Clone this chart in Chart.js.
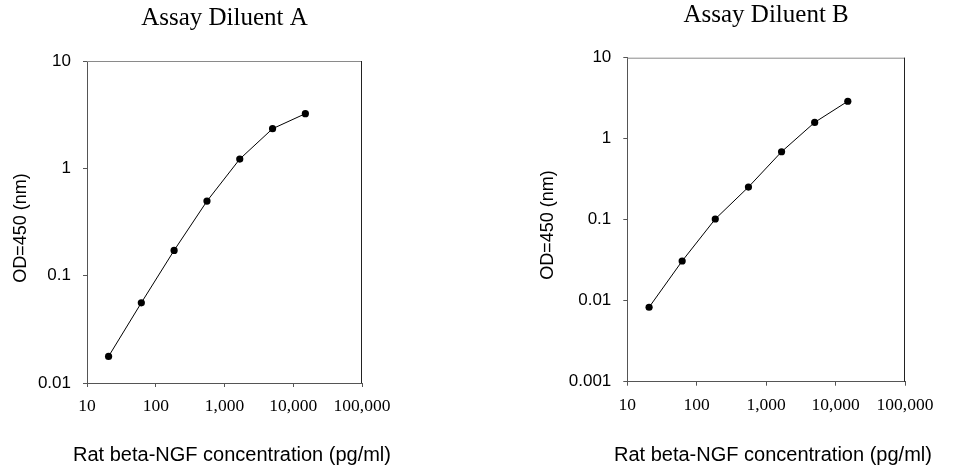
<!DOCTYPE html>
<html>
<head>
<meta charset="utf-8">
<script src="https://cdn.jsdelivr.net/npm/chart.js@4.4.1/dist/chart.umd.min.js"></script>
<style>
  html, body { margin: 0; padding: 0; background: #fff; }
  #wrap { position: relative; width: 962px; height: 473px; }
  .box { position: absolute; top: 0; width: 481px; height: 473px; }
</style>
</head>
<body>
<div id="wrap">
  <div class="box" style="left:0"><canvas id="chartA"></canvas></div>
  <div class="box" style="left:481px"><canvas id="chartB"></canvas></div>
</div>
<script>
// concentrations (pg/ml), same for both panels
const concentrations = [20.6, 61.7, 185, 556, 1667, 5000, 15000];
// OD values
const odDiluentA = [0.0177, 0.0559, 0.172, 0.495, 1.22, 2.34, 3.23];
const odDiluentB = [0.0083, 0.0309, 0.102, 0.253, 0.69, 1.59, 2.90];

const xTickValues = [10, 100, 1000, 10000, 100000];
const xTickLabels = ["10", "100", "1,000", "10,000", "100,000"];
const yTickValuesA = [0.01, 0.1, 1, 10];
const yTickLabelsA = ["0.01", "0.1", "1", "10"];
const yTickValuesB = [0.001, 0.01, 0.1, 1, 10];
const yTickLabelsB = ["0.001", "0.01", "0.1", "1", "10"];

const titles = ["Assay Diluent A", "Assay Diluent B"];
const xTitle = "Rat beta-NGF concentration (pg/ml)";
const yTitle = "OD=450 (nm)";

Chart.defaults.devicePixelRatio = 1;

// cadre haut et droite + titres des axes (le titre de Chart.js compresse le texte)
const frameBox = {
  id: "frameBox",
  afterDraw(chart, args, opts) {
    const a = chart.chartArea;
    const ctx = chart.ctx;
    ctx.save();
    ctx.lineWidth = 1;
    ctx.strokeStyle = "#8a8a8a";
    ctx.beginPath();
    ctx.moveTo(a.left, a.top + 0.5);
    ctx.lineTo(a.right, a.top + 0.5);
    ctx.stroke();
    ctx.strokeStyle = "#222";
    ctx.beginPath();
    ctx.moveTo(a.right - 0.5, a.top);
    ctx.lineTo(a.right - 0.5, a.bottom);
    ctx.stroke();

    ctx.fillStyle = "#000";
    ctx.textAlign = "center";
    ctx.textBaseline = "middle";
    ctx.font = "20px 'Liberation Sans'";
    ctx.fillText(xTitle, (a.left + a.right) / 2 + opts.xShift, a.bottom + opts.xDrop);

    ctx.translate(opts.yX, (a.top + a.bottom) / 2 + opts.yShift);
    ctx.rotate(-Math.PI / 2);
    ctx.font = "18px 'Liberation Sans'";
    ctx.fillText(yTitle, 0, 0);
    ctx.restore();
  }
};

function makePoints(ys) {
  return concentrations.map((x, i) => ({ x: x, y: ys[i] }));
}

function makeChart(id, title, ys, yVals, yLabels, geo) {
  const ctx = document.getElementById(id);
  return new Chart(ctx, {
    type: "scatter",
    data: {
      datasets: [{
        data: makePoints(ys),
        showLine: true,
        borderColor: "#000",
        borderWidth: 1,
        backgroundColor: "#000",
        pointRadius: 3.6,
        pointHoverRadius: 3.6,
        pointBorderWidth: 0
      }]
    },
    options: {
      responsive: true,
      maintainAspectRatio: false,
      animation: false,
      events: [],
      layout: { padding: { left: 0, right: geo.padRight, top: 0, bottom: 0 } },
      plugins: {
        legend: { display: false },
        tooltip: { enabled: false },
        title: {
          display: true,
          text: title,
          fullSize: false,
          color: "#000",
          font: { family: "Liberation Serif", size: 25, weight: "normal", lineHeight: 1.2 },
          padding: { top: geo.titleTop, bottom: geo.titleBottom }
        },
        frameBox: geo.axisTitles
      },
      scales: {
        x: {
          type: "logarithmic",
          min: 10,
          max: 100000,
          afterBuildTicks(scale) {
            scale.ticks = xTickValues.map(v => ({ value: v }));
          },
          afterFit(scale) { scale.height = geo.xHeight; },
          ticks: {
            autoSkip: false,
            maxRotation: 0,
            color: "#000",
            padding: 9,
            font: { family: "Liberation Serif", size: 17.5 },
            callback: (v) => xTickLabels[xTickValues.indexOf(v)]
          },
          grid: { drawOnChartArea: false, tickLength: 4, color: "#555" },
          border: { color: "#555", width: 1 }
        },
        y: {
          type: "logarithmic",
          min: yVals[0],
          max: yVals[yVals.length - 1],
          afterBuildTicks(scale) {
            scale.ticks = yVals.map(v => ({ value: v }));
          },
          afterFit(scale) { scale.width = geo.yWidth; },
          ticks: {
            autoSkip: false,
            color: "#000",
            padding: 12,
            font: { family: "Liberation Sans", size: 17 },
            callback: (v) => {
              const i = yVals.findIndex(t => Math.abs(t - v) / t < 1e-6);
              return i >= 0 ? yLabels[i] : "";
            }
          },
          grid: { drawOnChartArea: false, tickLength: 4, color: "#555" },
          border: { color: "#555", width: 1 }
        }
      }
    },
    plugins: [frameBox]
  });
}

makeChart("chartA", titles[0], odDiluentA, yTickValuesA, yTickLabelsA, {
  padRight: 119, titleTop: 3.6, titleBottom: 27.4,
  xHeight: 90, yWidth: 87,
  axisTitles: { xShift: 7.5, xDrop: 72.7, yX: 20.7, yShift: 6 }
});

makeChart("chartB", titles[1], odDiluentB, yTickValuesB, yTickLabelsB, {
  padRight: 57, titleTop: 0.8, titleBottom: 26.9,
  xHeight: 91.3, yWidth: 146.3,
  axisTitles: { xShift: 6.8, xDrop: 74, yX: 66.7, yShift: 5.3 }
});
</script>
</body>
</html>
